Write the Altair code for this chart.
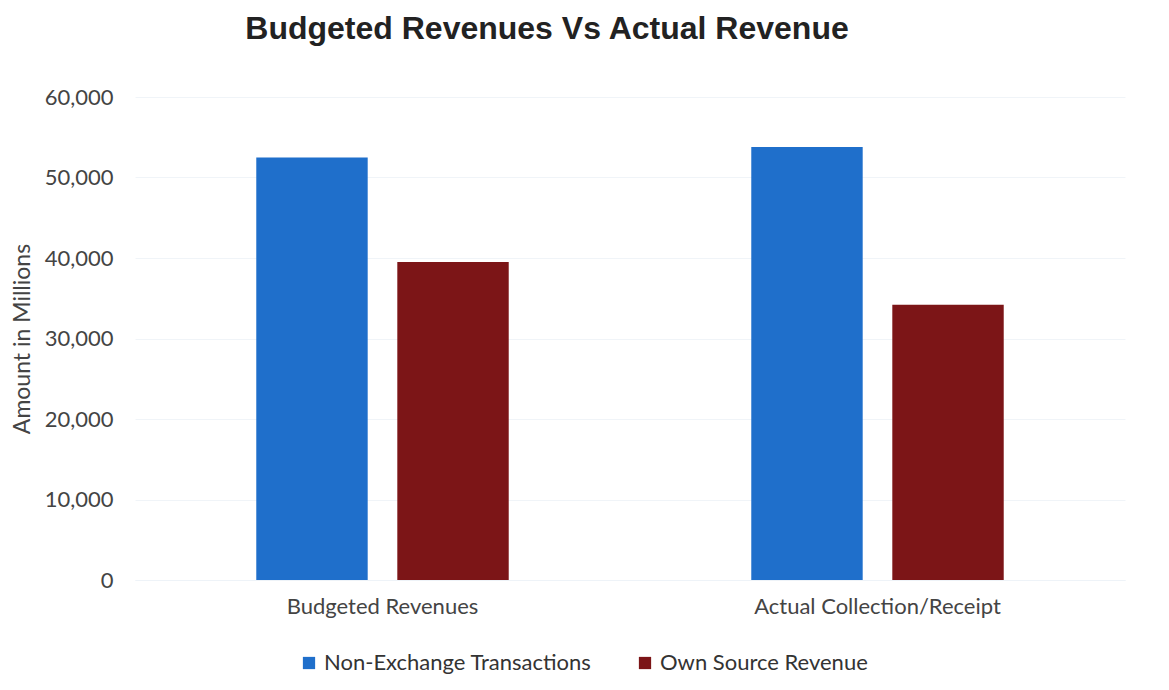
import altair as alt
import pandas as pd

categories = ["Budgeted Revenues", "Actual Collection/Receipt"]
series = ["Non-Exchange Transactions", "Own Source Revenue"]
non_exchange = [52500, 53800]
own_source = [39500, 34200]
colors = ["#1f6fcb", "#7c1517"]

rows = []
for i, c in enumerate(categories):
    rows.append({"Category": c, "Series": series[0], "Amount": non_exchange[i]})
    rows.append({"Category": c, "Series": series[1], "Amount": own_source[i]})
df = pd.DataFrame(rows)

font = "Lato"

chart = alt.Chart(df).mark_bar().encode(
    x=alt.X("Category:N", sort=categories, title=None,
            scale=alt.Scale(paddingInner=0.49, paddingOuter=0.245),
            axis=alt.Axis(labelAngle=0, labelFont=font, labelFontSize=22, labelLimit=0,
                          labelColor="#444", labelPadding=16, ticks=False,
                          domain=True, domainColor="#eef3f8")),
    xOffset=alt.XOffset("Series:N", sort=series,
                        scale=alt.Scale(paddingInner=0.21, paddingOuter=0)),
    y=alt.Y("Amount:Q", title="Amount in Millions",
            scale=alt.Scale(domain=[0, 60000], nice=False),
            axis=alt.Axis(values=[0, 10000, 20000, 30000, 40000, 50000, 60000],
                          format=",d", labelFont=font, labelFontSize=22,
                          labelColor="#444", labelPadding=22, ticks=False,
                          domain=False, grid=True, gridColor="#f0f4f8",
                          titleFont=font, titleFontSize=23, titleFontWeight="normal",
                          titleColor="#444", titlePadding=10)),
    color=alt.Color("Series:N", sort=series,
                    scale=alt.Scale(domain=series, range=colors),
                    legend=alt.Legend(title=None, orient="none", legendX=163, legendY=555,
                                      direction="horizontal", symbolType="square",
                                      symbolSize=150, symbolStrokeWidth=0, labelLimit=0,
                                      labelFont=font, labelFontSize=22, labelColor="#333",
                                      columnPadding=42, labelOffset=4)),
).properties(
    width=990,
    height=483,
    background="white",
    title=alt.TitleParams("Budgeted Revenues Vs Actual Revenue", font="Liberation Sans",
                          fontSize=32, fontWeight="bold", color="#222",
                          anchor="middle", dx=-83, offset=40),
    autosize=alt.AutoSizeParams(type="none"),
    padding={"left": 135, "top": 97, "right": 44, "bottom": 110},
).configure_view(stroke="transparent")

chart.save("out.html", embed_options={"renderer": "svg", "actions": False})
